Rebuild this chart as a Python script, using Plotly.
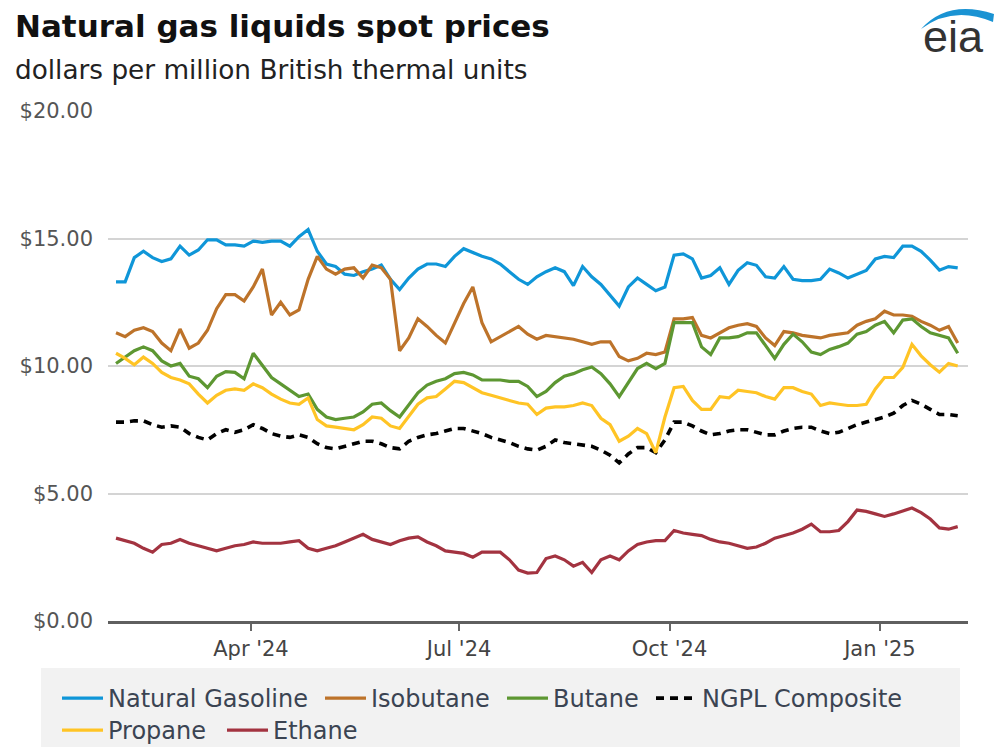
import pandas as pd
import plotly.graph_objects as go

# Observation dates: every 4 days, 2 Feb 2024 - 4 Feb 2025
dates = pd.date_range("2024-02-02", "2025-02-04", freq="4D")

# Spot prices, dollars per million Btu
natural_gasoline = [
    13.3, 13.3, 14.25, 14.5, 14.25, 14.1, 14.2, 14.7, 14.35, 14.55,
    14.95, 14.95, 14.75, 14.75, 14.7, 14.9, 14.85, 14.9, 14.9, 14.7,
    15.07, 15.35, 14.5, 14.0, 13.9, 13.6, 13.55, 13.7, 13.8, 13.96,
    13.4, 13.0, 13.45, 13.8, 14.0, 14.0, 13.9, 14.3, 14.6, 14.45,
    14.3, 14.2, 14.0, 13.7, 13.4, 13.2, 13.5, 13.7, 13.85, 13.7,
    13.15, 13.9, 13.5, 13.2, 12.75, 12.35, 13.1, 13.45, 13.2, 12.95,
    13.1, 14.35, 14.4, 14.2, 13.45, 13.55, 13.85, 13.2, 13.75, 14.05,
    13.95, 13.5, 13.45, 13.9, 13.4, 13.35, 13.35, 13.4, 13.8, 13.65,
    13.45, 13.6, 13.75, 14.2, 14.3, 14.25, 14.7, 14.7, 14.5, 14.15,
    13.76, 13.9, 13.85,
]
isobutane = [
    11.3, 11.15, 11.4, 11.5, 11.35, 10.9, 10.6, 11.45, 10.7, 10.9,
    11.4, 12.25, 12.8, 12.8, 12.55, 13.1, 13.8, 12.0, 12.5, 12.0,
    12.2, 13.4, 14.3, 13.8, 13.6, 13.8, 13.85, 13.45, 13.96, 13.85,
    13.4, 10.6, 11.1, 11.85, 11.55, 11.2, 10.9, 11.7, 12.45, 13.1,
    11.7, 10.95, 11.15, 11.35, 11.55, 11.25, 11.05, 11.2, 11.15, 11.1,
    11.05, 10.95, 10.85, 10.95, 10.95, 10.37, 10.2, 10.3, 10.5, 10.45,
    10.55, 11.85, 11.85, 11.9, 11.2, 11.1, 11.3, 11.5, 11.6, 11.66,
    11.55, 11.1, 10.8, 11.35, 11.3, 11.2, 11.15, 11.1, 11.2, 11.25,
    11.3, 11.6, 11.75, 11.85, 12.15, 12.0, 12.0, 11.95, 11.75, 11.6,
    11.4, 11.55, 10.9,
]
butane = [
    10.1, 10.35, 10.6, 10.75, 10.6, 10.2, 10.0, 10.1, 9.6, 9.5,
    9.15, 9.6, 9.78, 9.75, 9.5, 10.5, 10.0, 9.55, 9.3, 9.05,
    8.8, 8.9, 8.3, 8.0, 7.9, 7.95, 8.0, 8.2, 8.5, 8.55,
    8.25, 8.0, 8.45, 8.95, 9.25, 9.4, 9.5, 9.7, 9.75, 9.65,
    9.45, 9.45, 9.45, 9.4, 9.4, 9.2, 8.8, 9.0, 9.35, 9.6,
    9.7, 9.85, 9.96, 9.7, 9.3, 8.8, 9.35, 9.9, 10.1, 9.9,
    10.1, 11.7, 11.7, 11.7, 10.75, 10.45, 11.1, 11.1, 11.15, 11.3,
    11.3, 10.8, 10.3, 10.85, 11.25, 10.95, 10.55, 10.45, 10.65, 10.76,
    10.9, 11.25, 11.35, 11.6, 11.75, 11.3, 11.8, 11.85, 11.55, 11.3,
    11.2, 11.1, 10.5,
]
ngpl_composite = [
    7.8, 7.8, 7.85, 7.85, 7.7, 7.6, 7.65, 7.6, 7.35, 7.2,
    7.1, 7.35, 7.5, 7.4, 7.5, 7.7, 7.55, 7.35, 7.25, 7.2,
    7.3, 7.2, 6.95, 6.8, 6.75, 6.85, 6.95, 7.05, 7.05, 6.95,
    6.8, 6.75, 7.05, 7.2, 7.3, 7.35, 7.45, 7.55, 7.55, 7.45,
    7.35, 7.2, 7.1, 7.0, 6.85, 6.75, 6.7, 6.85, 7.1, 7.0,
    6.95, 6.9, 6.85, 6.7, 6.5, 6.2, 6.55, 6.8, 6.8, 6.6,
    7.1, 7.8, 7.8, 7.65, 7.45, 7.3, 7.35, 7.45, 7.5, 7.5,
    7.4, 7.3, 7.3, 7.45, 7.55, 7.6, 7.6, 7.45, 7.35, 7.4,
    7.55, 7.7, 7.8, 7.9, 8.0, 8.15, 8.45, 8.65, 8.5, 8.3,
    8.1, 8.1, 8.05,
]
propane = [
    10.5, 10.3, 10.05, 10.35, 10.1, 9.75, 9.55, 9.45, 9.3, 8.9,
    8.55, 8.85, 9.05, 9.1, 9.05, 9.3, 9.15, 8.9, 8.7, 8.55,
    8.5, 8.75, 7.9, 7.65, 7.6, 7.55, 7.5, 7.7, 8.0, 7.95,
    7.65, 7.55, 8.0, 8.5, 8.75, 8.8, 9.1, 9.4, 9.35, 9.15,
    8.95, 8.85, 8.75, 8.65, 8.55, 8.5, 8.1, 8.35, 8.4, 8.4,
    8.45, 8.55, 8.45, 7.95, 7.7, 7.05, 7.25, 7.55, 7.35, 6.6,
    8.0, 9.15, 9.2, 8.65, 8.3, 8.3, 8.8, 8.75, 9.05, 9.0,
    8.95, 8.8, 8.7, 9.15, 9.15, 9.0, 8.9, 8.45, 8.55, 8.5,
    8.45, 8.45, 8.5, 9.1, 9.55, 9.55, 9.95, 10.85, 10.4, 10.05,
    9.76, 10.1, 10.0,
]
ethane = [
    3.25, 3.15, 3.05, 2.85, 2.7, 3.0, 3.05, 3.2, 3.05, 2.95,
    2.85, 2.75, 2.85, 2.95, 3.0, 3.1, 3.05, 3.05, 3.05, 3.1,
    3.15, 2.85, 2.75, 2.85, 2.95, 3.1, 3.25, 3.4, 3.2, 3.1,
    3.0, 3.15, 3.25, 3.3, 3.1, 2.95, 2.75, 2.7, 2.65, 2.5,
    2.7, 2.7, 2.7, 2.4, 2.0, 1.88, 1.9, 2.45, 2.55, 2.4,
    2.15, 2.3, 1.9, 2.4, 2.55, 2.4, 2.75, 3.0, 3.1, 3.15,
    3.15, 3.55, 3.45, 3.4, 3.35, 3.2, 3.1, 3.05, 2.95, 2.85,
    2.9, 3.05, 3.25, 3.35, 3.45, 3.6, 3.8, 3.5, 3.5, 3.55,
    3.9, 4.35, 4.3, 4.2, 4.1, 4.2, 4.3, 4.43, 4.25, 4.0,
    3.65, 3.6, 3.7,
]

tick_dates = ["2024-04-01", "2024-07-01", "2024-10-01", "2025-01-01"]
tick_labels = ["Apr '24", "Jul '24", "Oct '24", "Jan '25"]

# (name, values, colour, dash)
series = [
    ("Natural Gasoline", natural_gasoline, "#0f96d8", "solid"),
    ("Isobutane", isobutane, "#bd732a", "solid"),
    ("Butane", butane, "#5d9732", "solid"),
    ("NGPL Composite", ngpl_composite, "#000000", "8px,6px"),
    ("Propane", propane, "#ffc425", "solid"),
    ("Ethane", ethane, "#a33340", "solid"),
]

W, H = 1000, 747
PLOT_L, PLOT_R, PLOT_T, PLOT_B = 108, 968, 111, 621

# Legend entry anchors (left edge, top edge) in page pixels, one per series
legend_anchor = [(57, 676), (320, 676), (502, 676), (651, 676), (57, 708), (222, 708)]


def paper_x(px):
    return (px - PLOT_L) / (PLOT_R - PLOT_L)


def paper_y(py):
    return (PLOT_B - py) / (PLOT_B - PLOT_T)


FONT = "DejaVu Sans"
legend_font = dict(family=FONT, size=24, color="#3b4452")

fig = go.Figure()
legend_layouts = {}
for i, (name, values, colour, dash) in enumerate(series):
    key = "legend" if i == 0 else f"legend{i + 1}"
    fig.add_trace(go.Scatter(
        x=dates, y=values, name=name, mode="lines",
        line=dict(color=colour, width=3.2 if dash == "solid" else 3.6, dash=dash),
        legend=key,
    ))
    lx, ly = legend_anchor[i]
    legend_layouts[key] = dict(
        orientation="h", xref="container", yref="container",
        x=lx / W, y=1 - ly / H, xanchor="left", yanchor="top",
        font=legend_font, bgcolor="rgba(0,0,0,0)", itemwidth=41,
    )

fig.update_layout(
    width=W, height=H,
    margin=dict(l=PLOT_L, r=W - PLOT_R, t=PLOT_T, b=H - PLOT_B, autoexpand=False),
    paper_bgcolor="white", plot_bgcolor="white",
    font=dict(family=FONT),
    showlegend=True,
    xaxis=dict(
        type="date",
        range=["2024-01-29 12:00", "2025-02-08 12:00"],
        tickmode="array", tickvals=tick_dates, ticktext=tick_labels,
        ticks="outside", ticklen=7, tickwidth=1.5, tickcolor="#666666",
        showgrid=False, showline=True, linecolor="#5f5f5f", linewidth=2.5,
        tickfont=dict(family=FONT, size=21, color="#444444"),
        zeroline=False,
    ),
    yaxis=dict(
        range=[0, 20], tickmode="linear", tick0=0, dtick=5,
        tickprefix="$", tickformat=".2f",
        showgrid=True, gridcolor="#d4d4d4", gridwidth=2,
        zeroline=False, showline=False, ticks="",
        ticklabelstandoff=14,
        tickfont=dict(family=FONT, size=21, color="#555555"),
    ),
    **legend_layouts,
)

# Legend background panel
fig.add_shape(
    type="rect", xref="paper", yref="paper", layer="below",
    x0=paper_x(41), x1=paper_x(960), y0=paper_y(668), y1=paper_y(750),
    fillcolor="#f2f2f2", line=dict(width=0),
)

# Title and subtitle
fig.add_annotation(
    text="<b>Natural gas liquids spot prices</b>",
    xref="paper", yref="paper", x=paper_x(13), y=paper_y(26),
    xanchor="left", yanchor="middle", showarrow=False,
    font=dict(family=FONT, size=31, color="#111111"),
)
fig.add_annotation(
    text="dollars per million British thermal units",
    xref="paper", yref="paper", x=paper_x(13), y=paper_y(70),
    xanchor="left", yanchor="middle", showarrow=False,
    font=dict(family=FONT, size=26.3, color="#222222"),
)

# eia logo: wordmark with a blue arc above it
fig.add_annotation(
    text="eia", xref="paper", yref="paper", x=paper_x(953), y=paper_y(36),
    xanchor="center", yanchor="middle", showarrow=False,
    font=dict(family="Liberation Sans", size=45, color="#333333"),
)
arc = [(921, 29), (948, -1), (994, 14), (993, 22), (953, 5), (921, 29)]
pts = [(paper_x(px), paper_y(py)) for px, py in arc]
arc_path = (
    f"M {pts[0][0]},{pts[0][1]} Q {pts[1][0]},{pts[1][1]} {pts[2][0]},{pts[2][1]} "
    f"L {pts[3][0]},{pts[3][1]} Q {pts[4][0]},{pts[4][1]} {pts[5][0]},{pts[5][1]} Z"
)
fig.add_shape(
    type="path", xref="paper", yref="paper", path=arc_path,
    fillcolor="#1a93d3", line=dict(width=0),
)

fig.write_html("out.html")
